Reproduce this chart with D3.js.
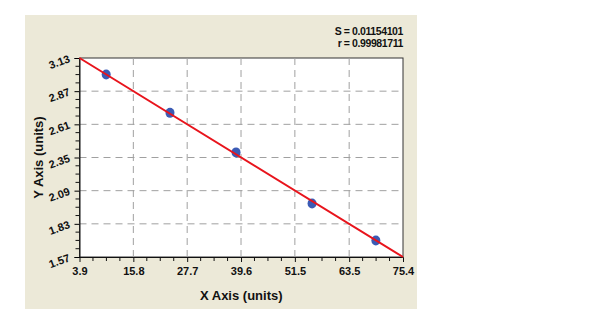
<html lang="en">
  <head>
    <meta charset="utf-8">
    <title>Standard curve</title>
    <script src="https://d3js.org/d3.v7.min.js"></script>
    <style>
      body { margin: 0; background: #fff; }
      text { font-family: Arial, "Liberation Sans", sans-serif; font-weight: bold; }
    </style>
  </head>
  <body>
    <script type="text/javascript">
      var w = 600;
      var h = 322;
      var margin = {top: 58, right: 197, bottom: 65, left: 79.5};
      var innerWidth = w - margin.left - margin.right;
      var innerHeight = h - margin.top - margin.bottom;

      var xTicks = [3.9, 15.8, 27.7, 39.6, 51.5, 63.5, 75.4];
      var yTicks = [1.57, 1.83, 2.09, 2.35, 2.61, 2.87, 3.13];
      var pointX = [9.8, 23.9, 38.5, 55.3, 69.4];
      var pointY = [3.0, 2.70, 2.39, 1.99, 1.70];
      var fitX = [3.9, 75.4];
      var fitY = [3.13, 1.57];
      var stats = ["S = 0.01154101", "r = 0.99981711"];

      var xScale = d3.scaleLinear().domain([3.9, 75.4]).range([0, innerWidth]);
      var yScale = d3.scaleLinear().domain([1.57, 3.13]).range([innerHeight, 0]);

      // minor ticks: 4 subdivisions between majors
      function minors(ticks) {
        var out = [];
        for (var i = 0; i < ticks.length - 1; i++) {
          var step = (ticks[i + 1] - ticks[i]) / 4;
          for (var k = 1; k < 4; k++) out.push(ticks[i] + k * step);
        }
        return out;
      }

      var svg = d3.select("body").append("svg")
          .attr("width", w)
          .attr("height", h);

      // beige panel
      svg.append("rect")
          .attr("x", 25).attr("y", 15)
          .attr("width", 392).attr("height", 294)
          .attr("fill", "#ece9d8");

      var g = svg.append("g")
          .attr("transform", "translate(" + margin.left + "," + margin.top + ")");

      g.append("rect")
          .attr("width", innerWidth).attr("height", innerHeight)
          .attr("fill", "#fff")
          .attr("stroke", "#333")
          .attr("stroke-width", 1);

      // grid
      g.selectAll(".vgrid")
          .data(xTicks.slice(1, -1))
          .enter().append("line")
          .attr("x1", d => xScale(d)).attr("x2", d => xScale(d))
          .attr("y1", 0).attr("y2", innerHeight)
          .attr("stroke", "#a0a0a0").attr("stroke-width", 1)
          .attr("stroke-dasharray", "7,5");
      g.selectAll(".hgrid")
          .data(yTicks.slice(1, -1))
          .enter().append("line")
          .attr("y1", d => yScale(d)).attr("y2", d => yScale(d))
          .attr("x1", 0).attr("x2", innerWidth)
          .attr("stroke", "#a0a0a0").attr("stroke-width", 1)
          .attr("stroke-dasharray", "7,5");

      // axes
      var xAxis = d3.axisBottom(xScale).tickValues(xTicks).tickFormat(d3.format(".1f")).tickSize(5);
      var yAxis = d3.axisLeft(yScale).tickValues(yTicks).tickFormat(d3.format(".2f")).tickSize(5).tickPadding(5);

      var gx = g.append("g")
          .attr("transform", "translate(0," + innerHeight + ")")
          .call(xAxis);
      gx.selectAll(".tick").filter(d => d === 3.9 || d === 75.4).select("line").remove();
      gx.selectAll(".tick text").attr("font-size", 11).attr("fill", "#111").attr("dy", "0.9em");
      gx.selectAll(".tick line").attr("stroke", "#111");
      gx.selectAll(".minor").data(minors(xTicks)).enter().append("line")
          .attr("x1", d => xScale(d)).attr("x2", d => xScale(d))
          .attr("y1", 0).attr("y2", 4).attr("stroke", "#111");

      var gy = g.append("g").call(yAxis);
      gy.selectAll(".tick text")
          .attr("font-size", 11).attr("fill", "#111")
          .attr("transform", "rotate(-20,-10,0)");
      gy.selectAll(".minor").data(minors(yTicks)).enter().append("line")
          .attr("y1", d => yScale(d)).attr("y2", d => yScale(d))
          .attr("x1", 0).attr("x2", -4).attr("stroke", "#111");
      g.selectAll(".domain").attr("stroke", "#111");

      // points
      g.selectAll(".pt")
          .data(pointX)
          .enter().append("ellipse")
          .attr("cx", d => xScale(d))
          .attr("cy", (d, i) => yScale(pointY[i]))
          .attr("rx", 4.5).attr("ry", 5)
          .attr("fill", "#3b5bb5");

      // fit line
      var line = d3.line().x(d => xScale(d[0])).y(d => yScale(d[1]));
      g.append("path")
          .datum(fitX.map((d, i) => [d, fitY[i]]))
          .attr("d", line)
          .attr("fill", "none")
          .attr("stroke", "#e8141c")
          .attr("stroke-width", 2);

      // titles
      g.append("text")
          .attr("x", innerWidth / 2).attr("y", innerHeight + 43)
          .attr("text-anchor", "middle")
          .attr("font-size", 13).attr("fill", "#111")
          .text("X Axis (units)");
      g.append("text")
          .attr("transform", "translate(-37," + innerHeight / 2 + ") rotate(-90)")
          .attr("text-anchor", "middle")
          .attr("font-size", 13).attr("fill", "#111")
          .text("Y Axis (units)");

      svg.selectAll(".stat")
          .data(stats)
          .enter().append("text")
          .attr("x", 403)
          .attr("y", (d, i) => 35 + i * 12)
          .attr("text-anchor", "end")
          .attr("font-size", 10.5).attr("fill", "#111")
          .attr("letter-spacing", -0.4)
          .text(d => d);
    </script>
  </body>
</html>
